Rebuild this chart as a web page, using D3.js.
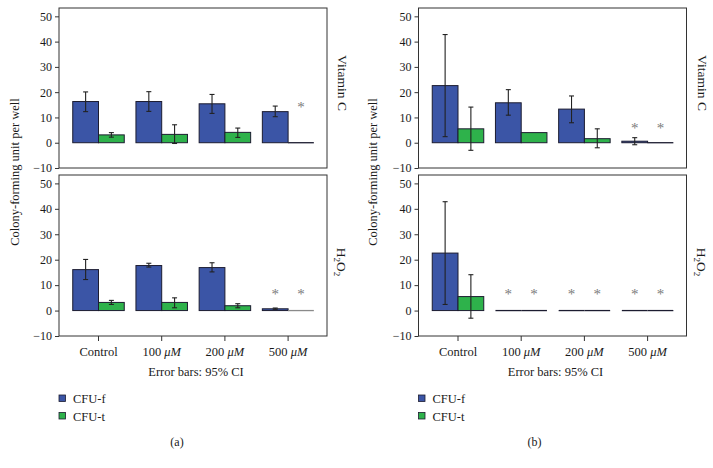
<!DOCTYPE html>
<html><head><meta charset="utf-8">
<script src="https://cdn.jsdelivr.net/npm/d3@7"></script>
<style>body{margin:0;background:#fff}svg{display:block}text{font-family:"Liberation Serif","DejaVu Serif",serif;fill:#1a1a1a}</style>
</head><body><svg id="c" width="713" height="468"></svg>
<script>
const categories = ["Control", "100", "200", "500"];
const series = ["CFU-f", "CFU-t"];
const yTicks = [-10, 0, 10, 20, 30, 40, 50];

// Panel (a) — Vitamin C
const aVitF = [16.3, 16.3, 15.4, 12.3];
const aVitFLo = [12.3, 12.4, 11.6, 10.3];
const aVitFHi = [20.1, 20.2, 19.1, 14.5];
const aVitT = [3.1, 3.3, 4.1, 0];
const aVitTLo = [2.2, -0.3, 2.1, null];
const aVitTHi = [4.0, 7.1, 5.8, null];
const aVitStar = [[0, 0], [0, 0], [0, 0], [0, 1]];
const aVitStarY = 15;
// Panel (a) — H2O2
const aH2F = [16.1, 17.7, 16.9, 0.7];
const aH2FLo = [12.2, 17.1, 15.2, 0.5];
const aH2FHi = [20.1, 18.6, 18.8, 1.0];
const aH2T = [3.2, 3.2, 1.9, 0];
const aH2TLo = [2.4, 1.1, 1.1, null];
const aH2THi = [4.0, 5.0, 2.7, null];
const aH2Star = [[0, 0], [0, 0], [0, 0], [1, 1]];
const aH2StarY = 7.3;
// Panel (b) — Vitamin C
const bVitF = [22.6, 15.8, 13.3, 0.6];
const bVitFLo = [2.4, 10.9, 7.9, -0.8];
const bVitFHi = [42.8, 21.0, 18.5, 2.0];
const bVitT = [5.5, 4.0, 1.6, 0];
const bVitTLo = [-3.0, null, -2.0, null];
const bVitTHi = [14.1, null, 5.5, null];
const bVitStar = [[0, 0], [0, 0], [0, 0], [1, 1]];
const bVitStarY = 6.8;
// Panel (b) — H2O2
const bH2F = [22.6, 0, 0, 0];
const bH2FLo = [2.4, null, null, null];
const bH2FHi = [42.8, null, null, null];
const bH2T = [5.5, 0, 0, 0];
const bH2TLo = [-3.0, null, null, null];
const bH2THi = [14.1, null, null, null];
const bH2Star = [[0, 0], [1, 1], [1, 1], [1, 1]];
const bH2StarY = 7.3;

const colors = ["#3b55a6", "#2eb24b"];

const svg = d3.select("#c");

function facet(left, top, bottom, F, FLo, FHi, T, TLo, THi, stars, starY, showX, greyZero) {
  const width = 268;
  const g = svg.append("g");
  const y = d3.scaleLinear().domain([-10, 53.3]).range([bottom, top]);
  const x = d3.scaleBand().domain(categories).range([left + 7.9, left + 7.9 + 252.8])
    .paddingInner(0.185).paddingOuter(0.0925);
  const xs = d3.scaleBand().domain(series).range([0, x.bandwidth()]);
  g.append("rect").attr("x", left).attr("y", top).attr("width", width).attr("height", bottom - top)
    .attr("fill", "#fff").attr("stroke", "#333").attr("stroke-width", 1);
  const yAx = g.append("g").attr("transform", `translate(${left},0)`)
    .call(d3.axisLeft(y).tickValues(yTicks).tickSize(4).tickPadding(3).tickFormat(d3.format("d")));
  yAx.select(".domain").remove();
  yAx.selectAll("line").attr("stroke", "#333");
  yAx.selectAll("text").style("font-size", "12px").style("font-family", '"Liberation Serif",serif').attr("fill", "#1a1a1a")
    .text(d => d < 0 ? "\u221210" : d);
  if (showX) {
    const xAx = g.append("g").attr("transform", `translate(0,${bottom})`)
      .call(d3.axisBottom(x).tickSize(5).tickPadding(6));
    xAx.select(".domain").remove();
    xAx.selectAll("line").attr("stroke", "#333");
    xAx.selectAll("text").style("font-size", "12.5px").style("font-family", '"Liberation Serif",serif').attr("fill", "#1a1a1a")
      .each(function (d) {
        const t = d3.select(this).text("");
        if (d === "Control") { t.text(d); return; }
        t.append("tspan").text(d + " ");
        t.append("tspan").style("font-style", "italic").text("\u03bcM");
      });
  }
  const vals = [F, T], los = [FLo, TLo], his = [FHi, THi];
  series.forEach((s, si) => {
    categories.forEach((c, ci) => {
      const v = vals[si][ci];
      const bx = x(c) + xs(s);
      const y0 = y(0), yv = y(v);
      if (v === 0) {
        g.append("line").attr("x1", bx).attr("x2", bx + xs.bandwidth()).attr("y1", y0).attr("y2", y0)
          .attr("stroke", greyZero && si === 1 ? "#8a8a8a" : "#1c1c30").attr("stroke-width", 1.3);
      } else {
        g.append("rect").attr("x", bx).attr("y", Math.min(y0, yv)).attr("width", xs.bandwidth())
          .attr("height", Math.abs(y0 - yv)).attr("fill", colors[si])
          .attr("stroke", "#1c1c30").attr("stroke-width", 1);
      }
      if (los[si][ci] !== null) {
        const cx = bx + xs.bandwidth() / 2;
        const lo = y(los[si][ci]), hi = y(his[si][ci]);
        g.append("line").attr("x1", cx).attr("x2", cx).attr("y1", lo).attr("y2", hi).attr("stroke", "#222").attr("stroke-width", 1.1);
        [lo, hi].forEach(yy => g.append("line").attr("x1", cx - 2.5).attr("x2", cx + 2.5).attr("y1", yy).attr("y2", yy)
          .attr("stroke", "#222").attr("stroke-width", 1.1));
      }
      if (stars[ci][si]) {
        g.append("text").attr("x", bx + xs.bandwidth() / 2).attr("y", y(starY) + 7)
          .attr("text-anchor", "middle").style("font-size", "15px").style("fill", "#7a7a7a")
          .style("opacity", 0.99).text("*");
      }
    });
  });
  return { x, y };
}

function titleV(x, yc, txt) {
  svg.append("text").attr("transform", `translate(${x},${yc}) rotate(90)`).attr("text-anchor", "middle")
    .attr("dy", "0.35em").style("font-size", "13.5px").text(txt);
}
function titleH2O2(x, yc) {
  const t = svg.append("text").attr("transform", `translate(${x},${yc}) rotate(90)`).attr("text-anchor", "middle")
    .attr("dy", "0.35em").style("font-size", "13.5px");
  t.append("tspan").text("H");
  t.append("tspan").attr("dy", 3).style("font-size", "9px").text("2");
  t.append("tspan").attr("dy", -3).text("O");
  t.append("tspan").attr("dy", 3).style("font-size", "9px").text("2");
}

function panel(left, offset, label, A, B, greyZero) {
  facet(left, 8, 168, ...A, false, false);
  facet(left, 175, 336, ...B, true, greyZero);
  titleV(left + 284, 83, "Vitamin C");
  titleH2O2(left + 283, 262);
  svg.append("text").attr("transform", `translate(${offset + 15},172) rotate(-90)`).attr("text-anchor", "middle")
    .attr("dy", "0.35em").style("font-size", "12.5px").text("Colony-forming unit per well");
  svg.append("text").attr("x", left + 137).attr("y", 376).attr("text-anchor", "middle").style("font-size", "12.5px")
    .text("Error bars: 95% CI");
  series.forEach((s, i) => {
    svg.append("rect").attr("x", left).attr("y", 395 + i * 17.5).attr("width", 6.5).attr("height", 6.5)
      .attr("fill", colors[i]).attr("stroke", "#1c1c30").attr("stroke-width", 0.8);
    svg.append("text").attr("x", left + 14).attr("y", 403 + i * 17.5).style("font-size", "12.5px").text(s);
  });
  svg.append("text").attr("x", offset + 177).attr("y", 446).attr("text-anchor", "middle").style("font-size", "12px").text(label);
}

panel(59, 0, "(a)",
  [aVitF, aVitFLo, aVitFHi, aVitT, aVitTLo, aVitTHi, aVitStar, aVitStarY],
  [aH2F, aH2FLo, aH2FHi, aH2T, aH2TLo, aH2THi, aH2Star, aH2StarY], true);
panel(418.5, 357.5, "(b)",
  [bVitF, bVitFLo, bVitFHi, bVitT, bVitTLo, bVitTHi, bVitStar, bVitStarY],
  [bH2F, bH2FLo, bH2FHi, bH2T, bH2TLo, bH2THi, bH2Star, bH2StarY], false);
</script></body></html>
